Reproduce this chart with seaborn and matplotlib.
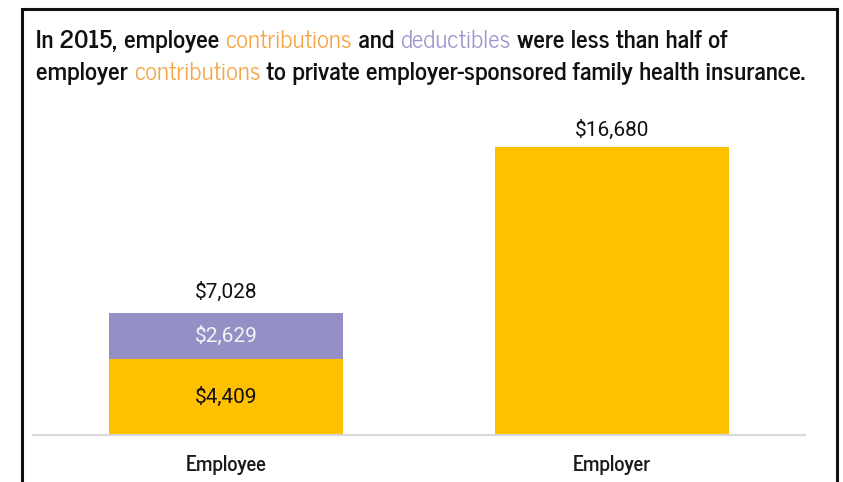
import matplotlib
matplotlib.use("Agg")
import matplotlib.pyplot as plt
import matplotlib.patches as patches
import seaborn as sns
import pandas as pd

categories = ["Employee", "Employer"]
contributions = [4409, 16680]
deductibles = [2629, 0]
totals = [7028, 16680]

gold = "#FFC000"
purple = "#9490C6"
orange_txt = "#F5A545"
purple_txt = "#9C96CE"

sns.set_theme(style="white")
plt.rcParams["font.family"] = ["News Cycle", "DejaVu Sans"]
num_font = ["Roboto", "DejaVu Sans"]

df = pd.DataFrame({"category": categories, "contrib": contributions,
                   "deduct": deductibles, "total": totals})
df["stack"] = df["contrib"] + df["deduct"]

fig = plt.figure(figsize=(8.43, 4.82), dpi=100)
ax = fig.add_axes([33 / 843, 47 / 482, 772 / 843, 315 / 482])

# stacked: contributions + deductibles (purple) underneath, contributions (gold) on top
sns.barplot(data=df, x="category", y="stack", color=purple, width=0.606,
            saturation=1, linewidth=0, ax=ax)
sns.barplot(data=df, x="category", y="contrib", color=gold, width=0.606,
            saturation=1, linewidth=0, ax=ax)

ax.set_xlim(-0.5, 1.5)
ax.set_ylim(0, 16680 * 315 / 288)
ax.set_xlabel("")
ax.set_ylabel("")
ax.set_yticks([])
sns.despine(ax=ax, left=True, top=True, right=True)
ax.spines["bottom"].set_color("#D9D9D9")
ax.spines["bottom"].set_linewidth(1.5)
ax.tick_params(axis="x", length=0, pad=14, labelsize=15)
for lbl in ax.get_xticklabels():
    lbl.set_fontweight("bold")
    lbl.set_color("#1a1a1a")

# value labels (baseline offset above bar, in px)
label_pad = [16, 11]
for i, tot in enumerate(totals):
    ax.annotate(f"${tot:,}", (i, df["stack"][i]), xytext=(0, label_pad[i] * 0.72),
                textcoords="offset points", ha="center", va="baseline",
                fontsize=15, color="#111111", family=num_font)
for i, (c, d) in enumerate(zip(contributions, deductibles)):
    if d > 0:
        ax.text(i, c / 2, f"${c:,}", ha="center", va="center",
                fontsize=15, color="#111111", family=num_font)
        ax.text(i, c + d / 2, f"${d:,}", ha="center", va="center",
                fontsize=15, color="#F4F4F4", family=num_font)

# frame around the chart
fig.patches.append(patches.Rectangle((21.5 / 843, -0.1), 815 / 843, 1.1 - 8.5 / 482,
                                     transform=fig.transFigure, fill=False,
                                     edgecolor="#111111", linewidth=2.2))

# multicolor title
lines = [
    [("In 2015, employee ", "#111111"), ("contributions", orange_txt), (" and ", "#111111"),
     ("deductibles", purple_txt), (" were less than half of", "#111111")],
    [("employer ", "#111111"), ("contributions", orange_txt),
     (" to private employer-sponsored family health insurance.", "#111111")],
]
baselines = [48, 80]
fig.canvas.draw()
renderer = fig.canvas.get_renderer()
for pieces, yb in zip(lines, baselines):
    x = 36
    for s, col in pieces:
        t = fig.text(x / 843, 1 - yb / 482, s, color=col, fontsize=18,
                     fontweight="bold" if col == "#111111" else "normal",
                     ha="left", va="baseline")
        bb = t.get_window_extent(renderer)
        x += bb.width

fig.savefig("out.png", dpi=100)
